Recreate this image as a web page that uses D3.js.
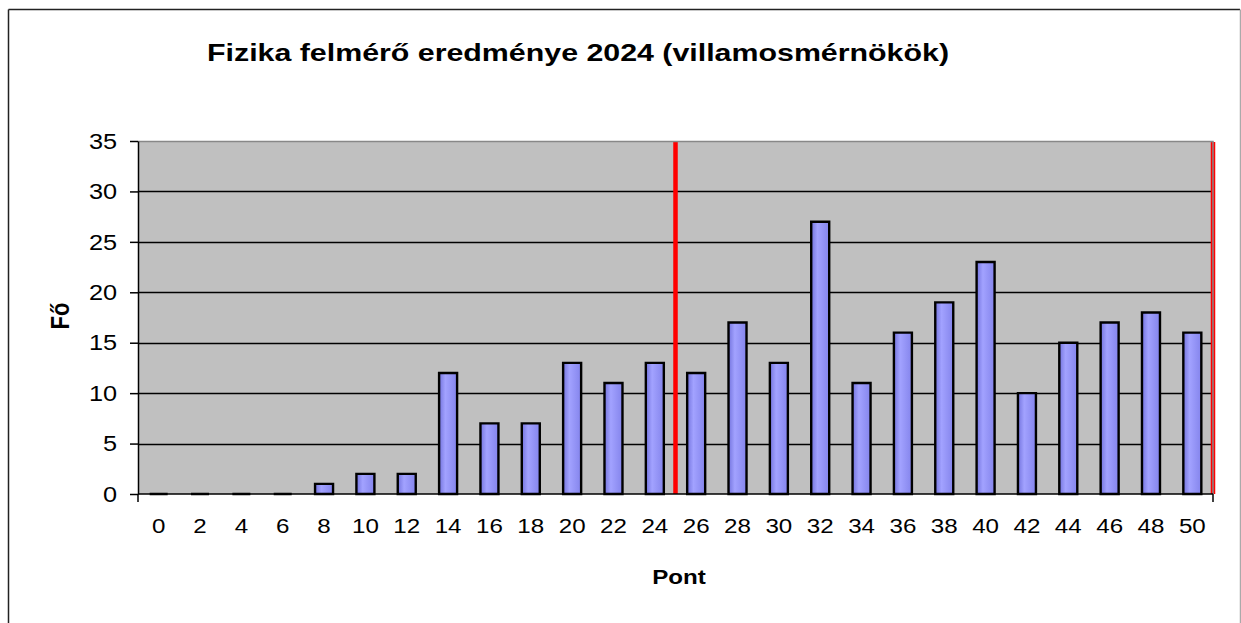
<!DOCTYPE html>
<html><head><meta charset="utf-8">
<script src="https://cdn.jsdelivr.net/npm/d3@7"></script>
<style>html,body{margin:0;padding:0;background:#fff;}svg{display:block;}</style>
</head><body>
<script>
const categories = ["0","2","4","6","8","10","12","14","16","18","20","22","24","26","28","30","32","34","36","38","40","42","44","46","48","50"];
const values = [0,0,0,0,1,2,2,12,7,7,13,11,13,12,17,13,27,11,16,19,23,10,15,17,18,16];
const yTicks = [0,5,10,15,20,25,30,35];
const redLineAfter = ["24","50"];
const title = "Fizika felmérő eredménye 2024 (villamosmérnökök)";
const xTitle = "Pont";
const yTitle = "Fő";

const W = 1241, H = 623;
const plot = {left:138, right:1213, top:141, bottom:494};
const SX = 1.15;
const font = "'Liberation Sans', Arial, sans-serif";

const svg = d3.select("body").append("svg").attr("width", W).attr("height", H);

// gradient
const defs = svg.append("defs");
const g = defs.append("linearGradient").attr("id","barGrad").attr("x1","0%").attr("x2","100%").attr("y1","0%").attr("y2","0%");
g.append("stop").attr("offset","0%").attr("stop-color","#7474de");
g.append("stop").attr("offset","35%").attr("stop-color","#a2a2ff");
g.append("stop").attr("offset","100%").attr("stop-color","#8484ec");

// outer border
svg.append("line").attr("x1",8.5).attr("x2",8.5).attr("y1",9.5).attr("y2",H).attr("stroke","#222").attr("stroke-width",1.5);
svg.append("line").attr("x1",8.5).attr("x2",1240).attr("y1",9.5).attr("y2",9.5).attr("stroke","#222").attr("stroke-width",1.5);
svg.append("line").attr("x1",1240.5).attr("x2",1240.5).attr("y1",9.5).attr("y2",H).attr("stroke","#aaa").attr("stroke-width",1.5);

const x = d3.scaleBand().domain(categories).range([plot.left, plot.right]).padding(0);
const y = d3.scaleLinear().domain([0,35]).range([plot.bottom, plot.top]);

// plot area background
svg.append("rect").attr("x",plot.left).attr("y",plot.top).attr("width",plot.right-plot.left).attr("height",plot.bottom-plot.top).attr("fill","#c0c0c0");

// gridlines
svg.append("g").selectAll("line").data(yTicks.filter(t=>t>0 && t<35)).join("line")
  .attr("x1",plot.left).attr("x2",plot.right)
  .attr("y1",d=>Math.round(y(d))+0.5).attr("y2",d=>Math.round(y(d))+0.5)
  .attr("stroke","#000").attr("stroke-width",1.3);

// red lines
svg.append("g").selectAll("line").data(redLineAfter).join("line")
  .attr("x1",d=>x(d)+x.bandwidth()).attr("x2",d=>x(d)+x.bandwidth())
  .attr("y1",plot.top+1).attr("y2",plot.bottom)
  .attr("stroke","#ff0000").attr("stroke-width",4.5);

// top & right plot border (gray)
svg.append("path").attr("d",`M${plot.left},${plot.top+0.5}H${plot.right}V${plot.bottom}`)
  .attr("fill","none").attr("stroke","#888").attr("stroke-width",1.5);

// x axis line
svg.append("line").attr("x1",plot.left).attr("x2",plot.right).attr("y1",plot.bottom).attr("y2",plot.bottom).attr("stroke","#000").attr("stroke-width",1.5);

// bars (paths so zero-height bars still show a dash)
const barW = 18;
svg.append("g").selectAll("path").data(values).join("path")
  .attr("d",(d,i)=>{
    const x0 = x(categories[i]) + (x.bandwidth()-barW)/2, x1 = x0 + barW;
    const y0 = y(0), y1 = y(d);
    return `M${x0},${y0}V${y1}H${x1}V${y0}Z`;
  })
  .attr("fill","url(#barGrad)")
  .attr("stroke","#000").attr("stroke-width",2.4).attr("stroke-linejoin","miter");

// y axis
const yAxis = d3.axisLeft(y).tickValues(yTicks).tickSize(8).tickPadding(13).tickSizeOuter(0);
const ya = svg.append("g").attr("transform",`translate(${plot.left},0)`).call(yAxis);
ya.select(".domain").attr("stroke","#000").attr("stroke-width",1.5);
ya.selectAll(".tick line").attr("stroke","#000").attr("stroke-width",1.5);
ya.selectAll(".tick text").attr("font-family",font).attr("font-size",22).attr("fill","#000")
  .attr("x",-21/SX).attr("dy","0.33em").attr("transform",`scale(${SX},1)`);

// x axis end ticks
svg.append("g").selectAll("line").data([plot.left, plot.right]).join("line")
  .attr("x1",d=>d).attr("x2",d=>d).attr("y1",plot.bottom).attr("y2",plot.bottom+8)
  .attr("stroke","#000").attr("stroke-width",1.5);
svg.append("g").selectAll("text").data(categories).join("text")
  .attr("transform",d=>`translate(${x(d)+x.bandwidth()/2},533) scale(${SX},1)`)
  .attr("text-anchor","middle").attr("font-family",font).attr("font-size",21).attr("fill","#000")
  .text(d=>d);

// titles
const tt = svg.append("text").attr("x",207).attr("y",61).attr("font-family",font).attr("font-weight","bold")
  .attr("font-size",24).attr("fill","#000").text(title);
tt.attr("textLength",742).attr("lengthAdjust","spacingAndGlyphs");

svg.append("text").attr("transform",`translate(679,584) scale(${SX},1)`).attr("text-anchor","middle")
  .attr("font-family",font).attr("font-weight","bold").attr("font-size",21).attr("fill","#000").text(xTitle);

svg.append("text").attr("transform",`translate(69,316) rotate(-90) scale(1,${SX})`).attr("text-anchor","middle")
  .attr("font-family",font).attr("font-weight","bold").attr("font-size",22).attr("fill","#000").text(yTitle);
</script>
</body></html>
